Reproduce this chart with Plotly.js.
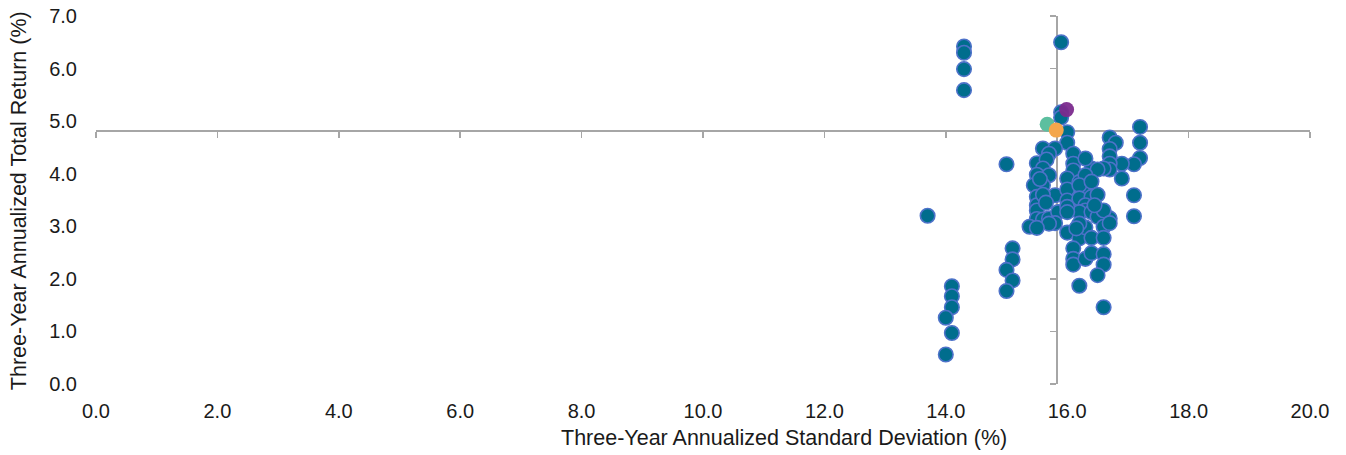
<!DOCTYPE html>
<html>
<head>
<meta charset="utf-8">
<script src="https://cdn.plot.ly/plotly-3.0.1.min.js"></script>
<style>html,body{margin:0;padding:0;background:#fff;}#chart{width:1346px;height:455px;}</style>
</head>
<body>
<div id="chart"></div>
<script>
// Fund points: three-year annualized standard deviation (%) and total return (%)
const fundStdDev = [
  13.7,
  14.1, 14.1, 14.1, 14.0, 14.1, 14.0,
  15.1, 15.1, 15.0, 15.1, 15.0,
  15.0,
  14.3, 14.3, 14.3, 14.3,
  15.9,
  15.9, 15.9,
  16.0, 16.0,
  17.2, 17.2, 17.2, 17.1, 16.9, 16.9, 17.1, 17.1,
  16.7, 16.8, 16.7, 16.7, 16.7, 16.7, 16.6, 16.4, 16.5,
  15.6, 15.8, 15.7, 15.5, 15.66, 15.6, 15.5, 15.7, 15.6, 15.45, 15.5, 15.5, 15.5, 15.5, 15.6, 15.7,
  15.8, 15.85, 15.8, 15.7, 15.38, 15.5, 15.6, 15.55, 15.65,
  16.1, 16.1, 16.1, 16.0, 16.0, 16.2, 16.3, 16.3, 16.3, 16.2, 16.0, 16.2, 16.2, 16.4, 16.3, 16.3,
  16.2, 16.0, 16.0, 16.4, 16.57, 16.7, 16.5, 16.6, 16.0, 16.2, 16.3, 16.2, 16.15, 16.6, 16.7,
  16.4, 16.6, 16.1, 16.1, 16.1, 16.3, 16.4, 16.6, 16.6, 16.5, 16.2, 16.6, 16.4, 16.5, 16.45
];
const fundReturn = [
  3.2,
  1.86, 1.67, 1.46, 1.26, 0.97, 0.56,
  2.58, 2.37, 2.17, 1.97, 1.77,
  4.18,
  6.42, 6.30, 5.99, 5.59,
  6.50,
  5.17, 5.07,
  4.79, 4.59,
  4.89, 4.59, 4.30, 4.18, 4.19, 3.91, 3.59, 3.19,
  4.69, 4.59, 4.47, 4.33, 4.19, 4.08, 4.10, 4.10, 4.08,
  4.48, 4.48, 4.38, 4.20, 4.27, 4.10, 3.98, 3.97, 3.78, 3.78, 3.56, 3.40, 3.30, 3.14, 3.13, 3.15,
  3.59, 3.27, 3.06, 3.05, 2.99, 2.97, 3.60, 3.90, 3.45,
  4.38, 4.19, 4.06, 3.91, 3.70, 3.84, 3.97, 4.29, 3.70, 3.78, 3.49, 3.49, 3.53, 3.56, 3.40, 3.30,
  3.27, 3.37, 3.27, 3.27, 3.27, 3.15, 3.18, 3.30, 2.88, 2.77, 2.98, 3.05, 2.96, 2.99, 3.06,
  2.78, 2.78, 2.58, 2.38, 2.27, 2.38, 2.49, 2.47, 2.27, 2.07, 1.87, 1.46, 3.85, 3.60, 3.40
];
// Highlighted points
const categoryX = [15.67];   // green
const categoryY = [4.94];
const benchX = [15.82];      // orange (axes cross here)
const benchY = [4.83];
const selectedX = [15.99];   // purple
const selectedY = [5.22];

const xTicks = [0, 2, 4, 6, 8, 10, 12, 14, 16, 18, 20];
const yTicks = [0, 1, 2, 3, 4, 5, 6, 7];
const xRange = [0, 20];
const yRange = [0, 7];
const xTitle = 'Three-Year Annualized Standard Deviation (%)';
const yTitle = 'Three-Year Annualized Total Return (%)';

const family = 'Arial, "Liberation Sans", sans-serif';
const tickFont = {family: family, size: 20, color: '#1a1a1a'};
const titleFont = {family: family, size: 21.5, color: '#1a1a1a'};
const lineGray = '#a6a6a6';

const traces = [
  {x: fundStdDev, y: fundReturn, type: 'scatter', mode: 'markers', xaxis: 'x', yaxis: 'y',
   marker: {size: 14.5, color: '#006d8d', line: {color: '#4d72c9', width: 1.6}}, hoverinfo: 'x+y'},
  {x: categoryX, y: categoryY, type: 'scatter', mode: 'markers', xaxis: 'x', yaxis: 'y',
   marker: {size: 15, color: '#5cbf9f'}},
  {x: benchX, y: benchY, type: 'scatter', mode: 'markers', xaxis: 'x', yaxis: 'y',
   marker: {size: 15, color: '#f4a64b'}},
  {x: selectedX, y: selectedY, type: 'scatter', mode: 'markers', xaxis: 'x', yaxis: 'y',
   marker: {size: 15, color: '#7b2a8d', opacity: 0.95}},
  // invisible trace that establishes the crossing axes
  {x: benchX, y: benchY, type: 'scatter', mode: 'markers', xaxis: 'x2', yaxis: 'y2',
   marker: {size: 1, opacity: 0}, hoverinfo: 'skip'}
];

const layout = {
  width: 1346, height: 455,
  margin: {l: 96, r: 36, t: 16, b: 71},
  paper_bgcolor: '#ffffff', plot_bgcolor: 'rgba(0,0,0,0)',
  showlegend: false,
  font: tickFont,
  xaxis: {
    range: xRange, tickvals: xTicks, ticktext: xTicks.map(v => v.toFixed(1)),
    showline: false, showgrid: false, zeroline: false, ticks: '',
    ticklabelstandoff: 13, tickfont: tickFont
  },
  yaxis: {
    range: yRange, tickvals: yTicks, ticktext: yTicks.map(v => v.toFixed(1)),
    showline: false, showgrid: false, zeroline: false, ticks: '',
    ticklabelstandoff: 18, tickfont: tickFont
  },
  xaxis2: {
    overlaying: 'x', anchor: 'free', position: benchY[0] / yRange[1], side: 'bottom',
    range: xRange, tickvals: xTicks, showticklabels: false,
    showline: true, linecolor: lineGray, linewidth: 1.5,
    ticks: 'outside', ticklen: 6, tickwidth: 1.5, tickcolor: lineGray,
    showgrid: false, zeroline: false, layer: 'below traces'
  },
  yaxis2: {
    overlaying: 'y', anchor: 'free', position: benchX[0] / xRange[1], side: 'left',
    range: yRange, tickvals: yTicks, showticklabels: false,
    showline: true, linecolor: lineGray, linewidth: 1.5,
    ticks: 'outside', ticklen: 6, tickwidth: 1.5, tickcolor: lineGray,
    showgrid: false, zeroline: false, layer: 'below traces'
  },
  annotations: [
    {text: xTitle, xref: 'paper', yref: 'paper', x: 0.5667, y: -0.147,
     xanchor: 'center', yanchor: 'middle', showarrow: false, font: titleFont},
    {text: yTitle, xref: 'paper', yref: 'paper', x: -0.0634, y: 0.497, textangle: -90,
     xanchor: 'center', yanchor: 'middle', showarrow: false, font: titleFont}
  ]
};

Plotly.newPlot('chart', traces, layout, {displayModeBar: false, staticPlot: true});
</script>
</body>
</html>
